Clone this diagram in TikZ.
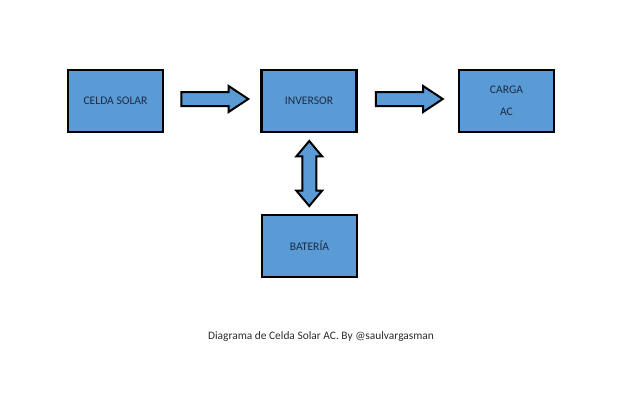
\documentclass[tikz,border=0pt]{standalone}
\usepackage{fontspec}
\setmainfont{Carlito}
\usetikzlibrary{shapes.arrows,calc}
\definecolor{boxblue}{HTML}{5B9BD5}
\definecolor{txtnavy}{HTML}{1A2B48}
\definecolor{captgray}{HTML}{2B2B2B}
\tikzset{
  block/.style={draw=black, line width=2.5pt, fill=boxblue, minimum width=95pt, minimum height=62pt, inner sep=0pt, text=txtnavy, font=\fontsize{11.6}{13}\selectfont, align=center},
  harrow/.style={single arrow, draw=black, line width=2pt, fill=boxblue, minimum height=67pt, minimum width=24pt, inner sep=6pt, single arrow head extend=6pt, single arrow tip angle=67, anchor=tail},
  varrow/.style={double arrow, draw=black, line width=2pt, fill=boxblue, minimum height=65pt, minimum width=24pt, inner sep=6pt, double arrow head extend=6pt, double arrow tip angle=80, shape border rotate=90}
}
\begin{document}
\begin{tikzpicture}[x=1pt,y=-1pt]
\useasboundingbox (0,0) rectangle (640,420);
\node[block] (celda) at (115.5,101) {CELDA SOLAR};
\node[block] (inv) at (309,101) {INVERSOR};
\node[block] (carga) at (506.5,101) {CARGA\\[9pt]AC};
\node[block] (bat) at (309.5,246) {BATERÍA};
\node[harrow] (a1) at ($(celda.east)+(16,-2)$) {};
\node[harrow] (a2) at ($(inv.east)+(17,-2)$) {};
\node[varrow] (a3) at ($(inv.south)!0.5!(bat.north)$) {};
\node[text=captgray, font=\fontsize{11.4}{13}\selectfont] (cap) at (321,337) {Diagrama de Celda Solar AC. By @saulvargasman};
\end{tikzpicture}
\end{document}
